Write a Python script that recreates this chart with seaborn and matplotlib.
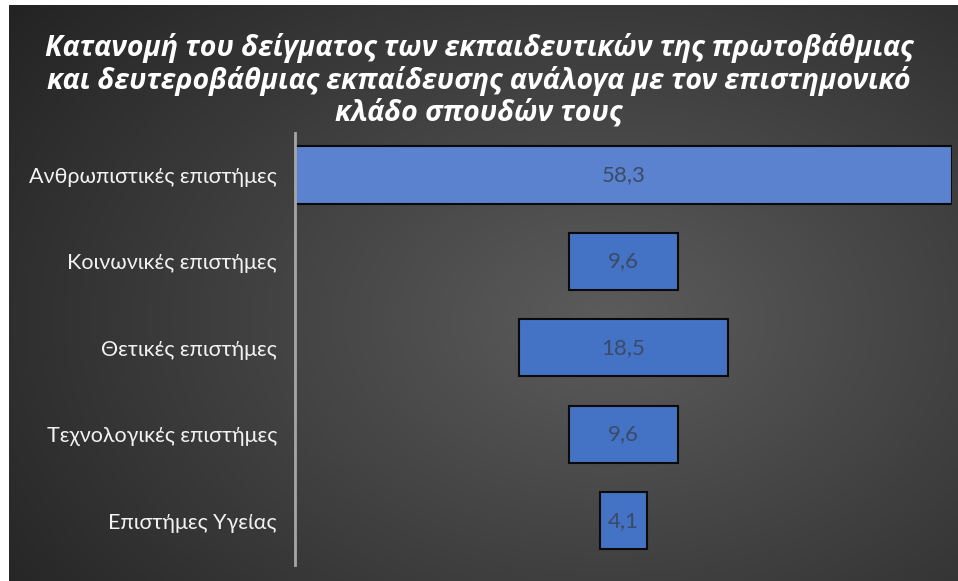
import numpy as np
import pandas as pd
import matplotlib
matplotlib.use("Agg")
import matplotlib.pyplot as plt
from matplotlib.patches import Rectangle
import seaborn as sns

categories = [
    "Ανθρωπιστικές επιστήμες",
    "Κοινωνικές επιστήμες",
    "Θετικές επιστήμες",
    "Τεχνολογικές επιστήμες",
    "Επιστήμες Υγείας",
]
values = [58.3, 9.6, 18.5, 9.6, 4.1]
value_labels = ["58,3", "9,6", "18,5", "9,6", "4,1"]
title = ("Κατανομή του δείγματος των εκπαιδευτικών της πρωτοβάθμιας\n"
         "και δευτεροβάθμιας εκπαίδευσης ανάλογα με τον επιστημονικό\n"
         "κλάδο σπουδών τους")

sns.set_theme(style="white")
plt.rcParams["font.family"] = ["Lato", "DejaVu Sans"]

W, H = 958, 581
fig = plt.figure(figsize=(W / 100, H / 100), dpi=100, facecolor="#2a2a2a")

# dark radial-gradient backdrop
bg = fig.add_axes([0, 0, 1, 1])
bg.set_axis_off()
gx, gy = np.meshgrid(np.linspace(0, 1, 400), np.linspace(0, 1, 300))
r = np.sqrt(((gx - 0.63) / 0.75) ** 2 + ((gy - 0.55) / 0.85) ** 2)
shade = np.clip(0.36 - 0.22 * r, 0.14, 0.36)
bg.imshow(np.dstack([shade] * 3), aspect="auto", extent=[-0.02, 1.02, -0.02, 1.02],
          interpolation="bilinear")
bg.set_xlim(0, 1)
bg.set_ylim(0, 1)

# thin white page margin along the top and left
fig.patches.append(Rectangle((0, 0), 9 / W, 1, transform=fig.transFigure,
                             facecolor="white", edgecolor="none", zorder=10))
fig.patches.append(Rectangle((0, (H - 5) / H), 1, 5 / H, transform=fig.transFigure,
                             facecolor="white", edgecolor="none", zorder=10))

df = pd.DataFrame({"category": categories, "value": values})

ax = fig.add_axes([295 / W, 16 / H, 657 / W, 432 / H])
ax.patch.set_alpha(0)
sns.barplot(data=df, x="value", y="category", orient="h", ax=ax,
            color="#4472c4", width=0.66, saturation=1,
            edgecolor="#0a0a0a", linewidth=1.5)

half = max(values) / 2
for i, (patch, lab) in enumerate(zip(ax.patches, value_labels)):
    w = patch.get_width()
    patch.set_x(-w / 2)
    patch.set_facecolor("#5b82cf" if i == 0 else "#4472c4")
    ax.text(0, patch.get_y() + patch.get_height() / 2, lab,
            ha="center", va="center", fontsize=16, color="#3b4a66")

ax.set_xlim(-half, half)
ax.set_ylim(4.51, -0.486)
ax.set_xlabel("")
ax.set_ylabel("")
ax.set_xticks([])
ax.tick_params(axis="y", length=0, pad=13, labelsize=15.5, labelcolor="#f2f2f2")
for s in ["top", "right", "bottom"]:
    ax.spines[s].set_visible(False)
ax.spines["left"].set_color("#a6a6a6")
ax.spines["left"].set_linewidth(2)
ax.spines["left"].set_zorder(5)

fig.text(0.5, (H - 80) / H, title, ha="center", va="center",
         fontsize=20.5, fontweight="bold", fontstyle="italic", color="white",
         family=["Open Sans", "DejaVu Sans"], linespacing=1.12)

fig.savefig("out.png", dpi=100, facecolor=fig.get_facecolor())
